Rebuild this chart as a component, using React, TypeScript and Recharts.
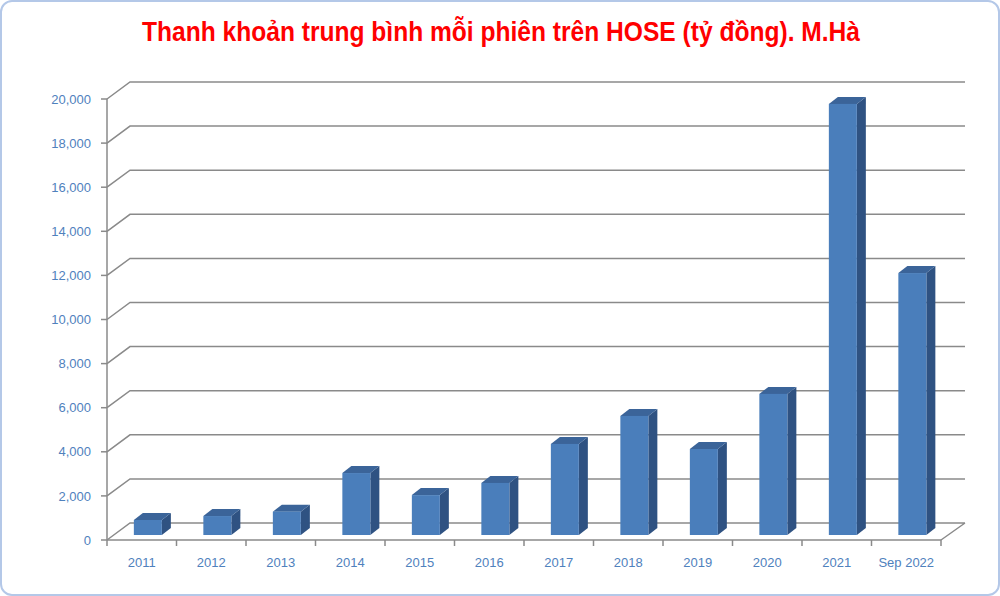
import { BarChart, Bar, XAxis, YAxis, CartesianGrid } from 'recharts';

// ── Data ──────────────────────────────────────────────────────

const YEARS = ['2011', '2012', '2013', '2014', '2015', '2016', '2017', '2018', '2019', '2020', '2021', 'Sep 2022'];
const LIQUIDITY = [680, 860, 1060, 2810, 1810, 2360, 4130, 5400, 3900, 6400, 19550, 11880];
const Y_TICKS = [0, 2000, 4000, 6000, 8000, 10000, 12000, 14000, 16000, 18000, 20000];

const TITLE = 'Thanh khoản trung bình mỗi phiên trên HOSE (tỷ đồng). M.Hà';

// ── Layout / style ────────────────────────────────────────────

const W = 1000;
const H = 596;
const PLOT_LEFT = 107;
const PLOT_RIGHT = 941;
const PLOT_TOP = 99;
const PLOT_BOTTOM = 540;
const HALF_BAND = (PLOT_RIGHT - PLOT_LEFT) / YEARS.length / 2;

// back wall offset (3D depth)
const WALL_DX = 23;
const WALL_DY = -17;
// bar placement inside the depth + bar thickness
const BAR_DX = 6;
const BAR_DY = -5;
const DEPTH_DX = 9;
const DEPTH_DY = -7;

const GRID = '#8a8a8a';
const LABEL = '#4f81bd';
const FONT = '"Liberation Sans", Arial, sans-serif';

const data = YEARS.map((year, i) => ({ year, value: LIQUIDITY[i] }));

// ── Pieces ────────────────────────────────────────────────────

const GridLine = (props: any) => {
    const { x1, x2, y1 } = props;
    const y = y1;
    let d = `M${x1},${y} L${x1 + WALL_DX},${y + WALL_DY} L${x2 + WALL_DX + 1},${y + WALL_DY}`;
    if (Math.abs(y - PLOT_BOTTOM) < 1) {
        d += ` M${x2},${y} L${x2 + WALL_DX + 1},${y + WALL_DY}`;
    }
    return <path key={props.key ?? `g-${y}`} d={d} fill="none" stroke={GRID} strokeWidth={1.5} />;
};

const Bar3D = (props: any) => {
    const { x, y, width, height } = props;
    if (height == null || width == null) return null;
    const fx = x + BAR_DX;
    const fy = y + BAR_DY;
    const top = `${fx},${fy} ${fx + DEPTH_DX},${fy + DEPTH_DY} ${fx + width + DEPTH_DX},${fy + DEPTH_DY} ${fx + width},${fy}`;
    const side = `${fx + width},${fy} ${fx + width + DEPTH_DX},${fy + DEPTH_DY} ${fx + width + DEPTH_DX},${fy + height + DEPTH_DY} ${fx + width},${fy + height}`;
    return (
        <g>
            <polygon points={side} fill="#2f5282" />
            <polygon points={top} fill="#3b6499" />
            <rect x={fx} y={fy} width={width} height={height} fill="#4a7ebb" />
        </g>
    );
};

const XTick = (props: any) => {
    const { x, payload, index } = props;
    return (
        <g>
            {index === 0 && <line x1={x - HALF_BAND} y1={PLOT_BOTTOM} x2={x - HALF_BAND} y2={PLOT_BOTTOM + 6} stroke={GRID} strokeWidth={1.5} />}
            <line x1={x + HALF_BAND} y1={PLOT_BOTTOM} x2={x + HALF_BAND} y2={PLOT_BOTTOM + 6} stroke={GRID} strokeWidth={1.5} />
            <text x={x} y={PLOT_BOTTOM + 27} textAnchor="middle" fill={LABEL} fontSize={13} fontFamily={FONT}>
                {payload.value}
            </text>
        </g>
    );
};

// ── Component ─────────────────────────────────────────────────

export default function App() {
    return (
        <div style={{ position: 'absolute', left: 0, top: 0, width: W, height: H, background: '#fff' }}>
            <BarChart
                width={W}
                height={H}
                data={data}
                margin={{ top: PLOT_TOP, right: W - PLOT_RIGHT, bottom: H - PLOT_BOTTOM - 30, left: PLOT_LEFT - 60 }}
                barCategoryGap="30%"
            >
                <CartesianGrid vertical={false} horizontal={GridLine} />
                <XAxis
                    dataKey="year"
                    height={30}
                    axisLine={{ stroke: GRID, strokeWidth: 1.5 }}
                    tickLine={false}
                    tick={XTick}
                    interval={0}
                />
                <YAxis
                    width={60}
                    domain={[0, 20000]}
                    ticks={Y_TICKS}
                    tickFormatter={(v: number) => v.toLocaleString('en-US')}
                    axisLine={{ stroke: GRID, strokeWidth: 1.5 }}
                    tickLine={{ stroke: GRID, strokeWidth: 1.5 }}
                    tickSize={6}
                    tickMargin={10}
                    tick={{ fill: LABEL, fontSize: 13, fontFamily: FONT }}
                />
                <Bar dataKey="value" shape={Bar3D} isAnimationActive={false} />
            </BarChart>
            <svg width={W} height={60} style={{ position: 'absolute', left: 0, top: 0 }}>
                <text
                    x={501}
                    y={41}
                    textAnchor="middle"
                    fill="#ff0000"
                    fontSize={27}
                    fontWeight="bold"
                    fontFamily={FONT}
                    textLength={718}
                    lengthAdjust="spacingAndGlyphs"
                >
                    {TITLE}
                </text>
            </svg>
            <div
                style={{
                    position: 'absolute', left: 0, top: 0, width: W, height: H,
                    boxSizing: 'border-box', border: '2px solid #b4c8e8', borderRadius: 12,
                    pointerEvents: 'none',
                }}
            />
        </div>
    );
}
